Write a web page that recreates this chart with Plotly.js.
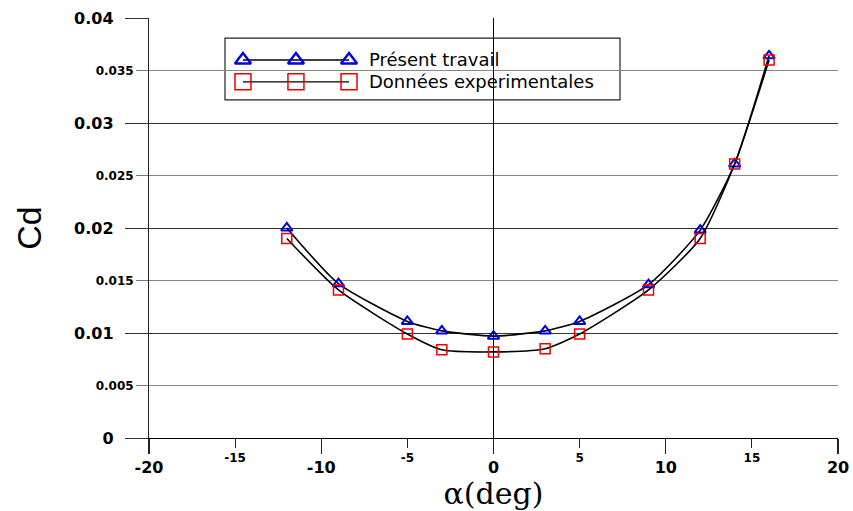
<!DOCTYPE html>
<html>
<head>
<meta charset="utf-8">
<script src="https://cdn.plot.ly/plotly-3.0.1.min.js"></script>
<style>html,body{margin:0;padding:0;background:#fff;}#chart{width:853px;height:511px;}</style>
</head>
<body>
<div id="chart"></div>
<script>
// Data
const alpha = [-12, -9, -5, -3, 0, 3, 5, 9, 12, 14, 16];
const cdPresent = [0.0200, 0.0147, 0.0111, 0.0102, 0.0097, 0.0102, 0.0111, 0.0146, 0.0198, 0.0261, 0.0364];
const cdExperimental = [0.0190, 0.0141, 0.0099, 0.0084, 0.0082, 0.0085, 0.0099, 0.0141, 0.0190, 0.0261, 0.0360];

const seriesNames = ['Présent travail', 'Données experimentales'];

const xMajorTicks = [-20, -10, 0, 10, 20];
const xMinorTicks = [-15, -5, 5, 15];
const yMajorTicks = [0, 0.01, 0.02, 0.03, 0.04];
const yMinorTicks = [0.005, 0.015, 0.025, 0.035];
const yMajorText = ['0', '0.01', '0.02', '0.03', '0.04'];
const yMinorText = ['0.005', '0.015', '0.025', '0.035'];

// legend glyph layout (paper-like coords on hidden overlay axes)
const legendX = [0.1364, 0.2133, 0.2903];
const legendY = [0.9, 0.848];

const tickFontBig = {family: 'DejaVu Sans', size: 16, color: '#000', weight: 'bold'};
const tickFontSmall = {family: 'DejaVu Sans', size: 12, color: '#000', weight: 'bold'};

const traces = [
  {
    x: alpha, y: cdPresent, type: 'scatter', mode: 'lines+markers', name: seriesNames[0],
    line: {color: '#000', width: 1.6, shape: 'spline', smoothing: 0.6},
    marker: {symbol: 'triangle-up-open', size: 10, color: '#0000dd', line: {color: '#0000dd', width: 2}},
    showlegend: false, hoverinfo: 'x+y'
  },
  {
    x: alpha, y: cdExperimental, type: 'scatter', mode: 'lines+markers', name: seriesNames[1],
    line: {color: '#000', width: 1.6, shape: 'spline', smoothing: 0.6},
    marker: {symbol: 'square-open', size: 10, color: '#ee0000', line: {color: '#ee0000', width: 1.5}},
    showlegend: false, hoverinfo: 'x+y'
  },
  // empty trace to register the minor-tick overlay axes
  {x: [], y: [], xaxis: 'x2', yaxis: 'y2', type: 'scatter', mode: 'markers', showlegend: false, hoverinfo: 'skip'},
  // legend glyphs
  {
    x: legendX, y: legendX.map(() => legendY[0]), xaxis: 'x3', yaxis: 'y3', type: 'scatter', mode: 'lines+markers',
    line: {color: '#000', width: 1.4},
    marker: {symbol: 'triangle-up-open', size: 14, color: '#0000dd', line: {color: '#0000dd', width: 2.4}},
    showlegend: false, hoverinfo: 'skip', cliponaxis: false
  },
  {
    x: legendX, y: legendX.map(() => legendY[1]), xaxis: 'x3', yaxis: 'y3', type: 'scatter', mode: 'lines+markers',
    line: {color: '#000', width: 1.4},
    marker: {symbol: 'square-open', size: 16, color: '#ee0000', line: {color: '#ee0000', width: 1.5}},
    showlegend: false, hoverinfo: 'skip', cliponaxis: false
  }
];

const layout = {
  width: 853, height: 511,
  margin: {l: 149, r: 15, t: 18, b: 73},
  paper_bgcolor: '#fff', plot_bgcolor: '#fff',
  showlegend: false,
  xaxis: {
    range: [-20, 20], tickmode: 'array', tickvals: xMajorTicks, ticktext: xMajorTicks.map(String),
    ticks: 'outside', ticklen: 15, tickwidth: 1.2, tickcolor: '#222',
    showgrid: false, zeroline: true, zerolinecolor: '#000', zerolinewidth: 1.2,
    showline: true, linecolor: '#000', linewidth: 1.2,
    tickfont: tickFontBig,
    title: {text: 'α(deg)', font: {family: 'DejaVu Serif', size: 30, color: '#000'}, standoff: 5}
  },
  xaxis2: {
    overlaying: 'x', anchor: 'y', side: 'bottom', range: [-20, 20],
    tickmode: 'array', tickvals: xMinorTicks, ticktext: xMinorTicks.map(String),
    ticks: 'outside', ticklen: 9, tickwidth: 1.2, tickcolor: '#222',
    showgrid: false, zeroline: false, showline: false, tickfont: tickFontSmall
  },
  yaxis: {
    range: [0, 0.04], tickmode: 'array', tickvals: yMajorTicks, ticktext: yMajorText,
    ticks: 'outside', ticklen: 23, tickwidth: 1, tickcolor: '#333',
    showgrid: true, gridcolor: '#333', gridwidth: 1,
    zeroline: false, showline: true, linecolor: '#222', linewidth: 1.2,
    tickfont: tickFontBig, ticklabelstandoff: 8,
    title: {text: 'Cd', font: {family: 'Liberation Sans', size: 34, color: '#000'}, standoff: 22}
  },
  yaxis2: {
    overlaying: 'y', anchor: 'x', side: 'left', range: [0, 0.04],
    tickmode: 'array', tickvals: yMinorTicks, ticktext: yMinorText,
    ticks: 'outside', ticklen: 12, tickwidth: 1, tickcolor: '#777',
    showgrid: true, gridcolor: '#888', gridwidth: 1, zeroline: false, showline: false,
    tickfont: tickFontSmall
  },
  xaxis3: {overlaying: 'x', anchor: 'y3', range: [0, 1], visible: false, fixedrange: true},
  yaxis3: {overlaying: 'y', anchor: 'x3', range: [0, 1], visible: false, fixedrange: true},
  shapes: [
    {type: 'rect', xref: 'paper', yref: 'paper', x0: 0.1103, x1: 0.6836, y0: 0.805, y1: 0.952,
     line: {color: '#222', width: 1.2}, fillcolor: '#fff', layer: 'between'}
  ],
  annotations: [
    {xref: 'paper', yref: 'paper', x: 0.3164, y: legendY[0], xanchor: 'left', yanchor: 'middle', showarrow: false,
     text: seriesNames[0], font: {family: 'DejaVu Sans', size: 18, color: '#000'}},
    {xref: 'paper', yref: 'paper', x: 0.3164, y: legendY[1], xanchor: 'left', yanchor: 'middle', showarrow: false,
     text: seriesNames[1], font: {family: 'DejaVu Sans', size: 18, color: '#000'}}
  ]
};

Plotly.newPlot('chart', traces, layout, {displayModeBar: false, staticPlot: true});
</script>
</body>
</html>
